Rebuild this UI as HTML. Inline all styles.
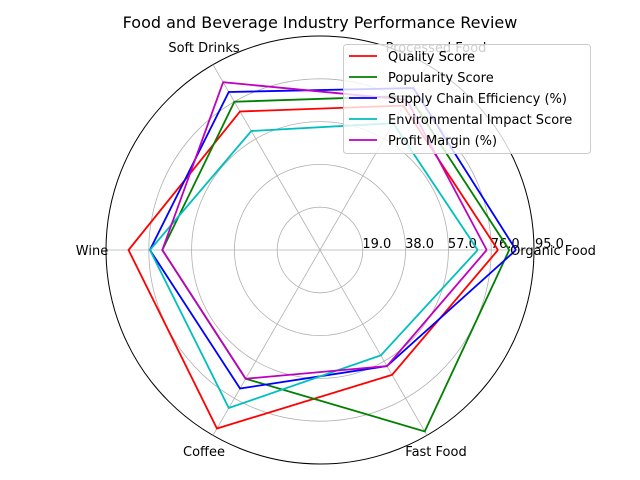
<!DOCTYPE html>
<html><head><meta charset="utf-8"><style>
body{margin:0;background:#fff;}
svg{display:block;font-family:"DejaVu Sans","Liberation Sans",sans-serif;}
</style></head><body>
<svg id="chart" width="640" height="480">
<text x="320" y="28" text-anchor="middle" font-size="16">Food and Beverage Industry Performance Review</text>
<g id="grid"></g><g id="series"></g><g id="labels"></g>
<g id="legend"></g>
</svg>
<script>
const categories=["Organic Food","Processed Food","Soft Drinks","Wine","Coffee","Fast Food"];
const seriesNames=["Quality Score","Popularity Score","Supply Chain Efficiency (%)","Environmental Impact Score","Profit Margin (%)"];
const quality=[79,74,71,85,91.5,64];
const popularity=[84,79,76,70,66,93];
const supply=[87,83,81,75.5,71,59.5];
const environmental=[70,65,61,75.5,81,54];
const profit=[74,77,86,70,66,59.5];
const ticks=[19,38,57,76,95];
const colors=["#ff0000","#008000","#0000ff","#00bfbf","#bf00bf"];
const allSeries=[quality,popularity,supply,environmental,profit];
const NS="http://www.w3.org/2000/svg";
const cx=320,cy=250,R=214,maxV=95;
function rad(v){return v/maxV*R;}
function ang(i){return i*2*Math.PI/categories.length;}
function pt(i,v){return [cx+rad(v)*Math.cos(ang(i)),cy-rad(v)*Math.sin(ang(i))];}
function mk(t,a,p){const e=document.createElementNS(NS,t);for(const k in a)e.setAttribute(k,a[k]);p.appendChild(e);return e;}
const grid=document.getElementById('grid');
ticks.forEach((t,k)=>{
 const c=mk('circle',{cx:cx,cy:cy,r:rad(t),fill:'none',stroke:t===maxV?'#000':'#b0b0b0','stroke-width':t===maxV?1:0.8},grid);
 
 
 const tx=mk('text',{x:cx+rad(t)+1,y:cy-2,'font-size':13,'text-anchor':t===maxV?'start':'middle'},grid);
 if(t!==maxV)tx.setAttribute('x',cx+rad(t)+14);
 tx.textContent=t.toFixed(1);
 
 
});
categories.forEach((c,i)=>{
 const p=pt(i,maxV);
 const l=mk('line',{x1:cx,y1:cy,x2:p[0],y2:p[1],stroke:'#b0b0b0','stroke-width':0.8},grid);
 
 
 const q=[cx+(R+18)*Math.cos(ang(i)),cy-(R+18)*Math.sin(ang(i))];
 const t=mk('text',{x:q[0],y:q[1]+5,'font-size':13,'text-anchor':'middle'},document.getElementById('labels'));
 if(i===0){t.setAttribute('x',q[0]+1);}
 if(i===3){t.setAttribute('x',q[0]+4);}
 if(i===1||i===2){t.setAttribute('y',q[1]+3);}
 t.textContent=c;
 
 
});
const sg=document.getElementById('series');
allSeries.forEach((s,k)=>{
 const pts=s.map((v,i)=>pt(i,v));pts.push(pts[0]);
 const pl=mk('polyline',{points:pts.map(p=>p.join(',')).join(' '),fill:'none',stroke:colors[k],'stroke-width':1.8},sg);
 
 
});
const lg=document.getElementById('legend');
const box=mk('rect',{x:343.5,y:44.5,width:247,height:109,rx:3,fill:'#fff','fill-opacity':0.8,stroke:'#ccc'},lg);


seriesNames.forEach((n,k)=>{
 const y=56+k*21;
 const ln=mk('line',{x1:349,y1:y,x2:377,y2:y,stroke:colors[k],'stroke-width':1.8},lg);
 
 
 const t=mk('text',{x:388,y:y+5,'font-size':13},lg);
 t.textContent=n;
 
 
});
</script>
</body></html>
